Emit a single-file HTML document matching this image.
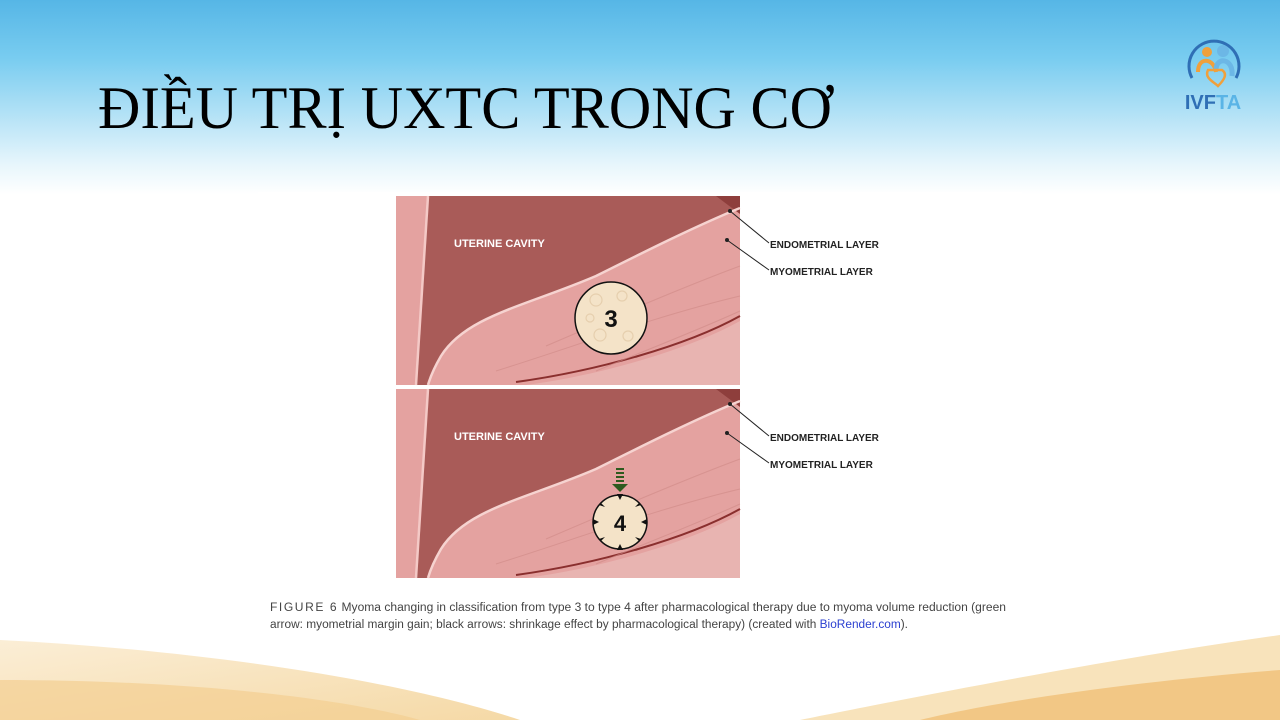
<!DOCTYPE html>
<html><head><meta charset="utf-8"><style>
html,body{margin:0;padding:0;width:1280px;height:720px;overflow:hidden;background:#fff}
</style></head><body>
<svg width="1280" height="720" viewBox="0 0 1280 720" xmlns="http://www.w3.org/2000/svg">
<defs>
<linearGradient id="bg" x1="0" y1="0" x2="0" y2="1">
<stop offset="0" stop-color="#56b6e6"/>
<stop offset="0.08" stop-color="#78ccf0"/>
<stop offset="0.16" stop-color="#b4e2f6"/>
<stop offset="0.23" stop-color="#e8f6fc"/>
<stop offset="0.27" stop-color="#ffffff"/>
<stop offset="1" stop-color="#ffffff"/>
</linearGradient>
<linearGradient id="wl" x1="0" y1="0" x2="1" y2="1">
<stop offset="0" stop-color="#fbeed6"/><stop offset="1" stop-color="#f5d9a6"/>
</linearGradient>
<g id="panel">
<rect x="0" y="0" width="344" height="189" fill="#e4a2a0"/>
<path d="M32,0 L344,0 L344,12 C300,30 250,55 200,80 C130,110 70,120 45,160 C38,172 34,182 32,189 L20,189 C24,120 28,60 32,0Z" fill="#a95b58"/>
<path d="M320,0 L344,0 L344,18Z" fill="#8e3e3c"/>
<path d="M32,0 C28,60 24,120 20,189" stroke="#f4c9c6" stroke-width="2.5" fill="none"/>
<path d="M344,12 C300,30 250,55 200,80 C130,110 70,120 45,160 C38,172 34,182 32,189" stroke="#f6d3d0" stroke-width="2.5" fill="none"/>
<path d="M344,120 C290,150 200,175 120,186" stroke="#8a2f2e" stroke-width="2" fill="none"/>
<path d="M344,125 C290,155 200,180 130,189 L344,189Z" fill="#e8b4b1"/>
<path d="M150,150 C220,120 290,90 344,70 M100,175 C180,150 260,120 344,100 M200,175 C260,150 300,135 344,115" stroke="#cf8886" stroke-width="1" fill="none" opacity="0.6"/>
<text x="58" y="51" font-family="Liberation Sans,sans-serif" font-weight="bold" font-size="11" fill="#fff">UTERINE CAVITY</text>
</g>
</defs>
<rect width="1280" height="720" fill="url(#bg)"/>
<path d="M0,640 C200,650 400,680 520,720 L0,720Z" fill="url(#wl)"/>
<path d="M0,680 C200,680 350,700 420,720 L0,720Z" fill="#f3cf92" opacity="0.7"/>
<path d="M1280,635 C1100,660 900,700 800,720 L1280,720Z" fill="#f8e3bb"/>
<path d="M1280,670 C1150,680 1000,700 920,720 L1280,720Z" fill="#f2c785"/>
<rect x="258" y="192" width="764" height="448" fill="#fff"/>
<text x="98" y="128" font-family="Liberation Serif,serif" font-size="60" fill="#000" textLength="734" lengthAdjust="spacingAndGlyphs">ĐIỀU TRỊ UXTC TRONG CƠ</text>
<!-- logo -->
<g transform="translate(1214,64)">
<path d="M-22,14 A25,25 0 1 1 22,14" stroke="#2f6fb5" stroke-width="3" fill="none"/>
<circle cx="-7" cy="-12" r="5" fill="#f0a03c"/>
<circle cx="9" cy="-13" r="6" fill="#6cb7e6"/>
<path d="M-16,8 C-16,-8 0,-6 2,8" stroke="#f0a03c" stroke-width="4" fill="none"/>
<path d="M18,12 C20,-6 2,-8 2,6" stroke="#6cb7e6" stroke-width="5" fill="none"/>
<path d="M-6,6 C-10,14 0,18 4,22 C10,16 14,10 8,6 Z" stroke="#f0a03c" stroke-width="2.5" fill="none"/>
</g>
<text x="1213" y="109" text-anchor="middle" font-family="Liberation Sans,sans-serif" font-weight="bold" font-size="20" fill="#2f6fb5">IVF<tspan fill="#5ab4e6">TA</tspan></text>
<!-- panels -->
<g transform="translate(396,196)"><use href="#panel"/></g>
<g transform="translate(396,389)"><use href="#panel"/></g>
<!-- myoma 3 -->
<circle cx="611" cy="318" r="36" fill="#f4e3c8" stroke="#111" stroke-width="1.5"/>
<g stroke="#e6cfae" fill="none" stroke-width="1.2">
<circle cx="596" cy="300" r="6"/><circle cx="622" cy="296" r="5"/><circle cx="600" cy="335" r="6"/><circle cx="628" cy="336" r="5"/><circle cx="590" cy="318" r="4"/>
</g>
<text x="611" y="327" text-anchor="middle" font-family="Liberation Sans,sans-serif" font-weight="bold" font-size="24" fill="#111">3</text>
<!-- myoma 4 -->
<circle cx="620" cy="522" r="27" fill="#f4e3c8" stroke="#111" stroke-width="1.5"/>
<text x="620" y="531" text-anchor="middle" font-family="Liberation Sans,sans-serif" font-weight="bold" font-size="22" fill="#111">4</text>
<g fill="#111">
<path d="M620,500 l-3,-6 h6z"/><path d="M620,544 l-3,6 h6z"/>
<path d="M599,522 l-6,-3 v6z"/><path d="M641,522 l6,-3 v6z"/>
<path d="M605,507 l-6,-2 l2,-2z"/><path d="M635,507 l6,-2 l-2,-2z"/>
<path d="M605,537 l-6,2 l2,2z"/><path d="M635,537 l6,2 l-2,2z"/>
</g>
<g fill="#2d5a1e">
<rect x="616" y="468" width="8" height="2"/><rect x="616" y="472" width="8" height="2"/><rect x="616" y="476" width="8" height="2"/><rect x="616" y="480" width="8" height="2"/>
<path d="M612,484 h16 l-8,8z"/>
</g>
<!-- labels -->
<g stroke="#222" stroke-width="1" fill="#222" font-family="Liberation Sans,sans-serif" font-weight="bold" font-size="10">
<circle cx="730" cy="211" r="1.5"/><line x1="730" y1="211" x2="769" y2="243"/>
<circle cx="727" cy="240" r="1.5"/><line x1="727" y1="240" x2="769" y2="270"/>
<text x="770" y="248" stroke="none">ENDOMETRIAL LAYER</text>
<text x="770" y="275" stroke="none">MYOMETRIAL LAYER</text>
<circle cx="730" cy="404" r="1.5"/><line x1="730" y1="404" x2="769" y2="436"/>
<circle cx="727" cy="433" r="1.5"/><line x1="727" y1="433" x2="769" y2="463"/>
<text x="770" y="441" stroke="none">ENDOMETRIAL LAYER</text>
<text x="770" y="468" stroke="none">MYOMETRIAL LAYER</text>
</g>
<g font-family="Liberation Sans,sans-serif" font-size="11.5" fill="#444">
<text x="270" y="611" textLength="736" lengthAdjust="spacingAndGlyphs"><tspan letter-spacing="1.5">FIGURE 6</tspan>   Myoma changing in classification from type 3 to type 4 after pharmacological therapy due to myoma volume reduction (green</text>
<text x="270" y="628" textLength="638" lengthAdjust="spacingAndGlyphs">arrow: myometrial margin gain; black arrows: shrinkage effect by pharmacological therapy) (created with <tspan fill="#2a3fd0">BioRender.com</tspan>).</text>
</g>
</svg>
</body></html>
